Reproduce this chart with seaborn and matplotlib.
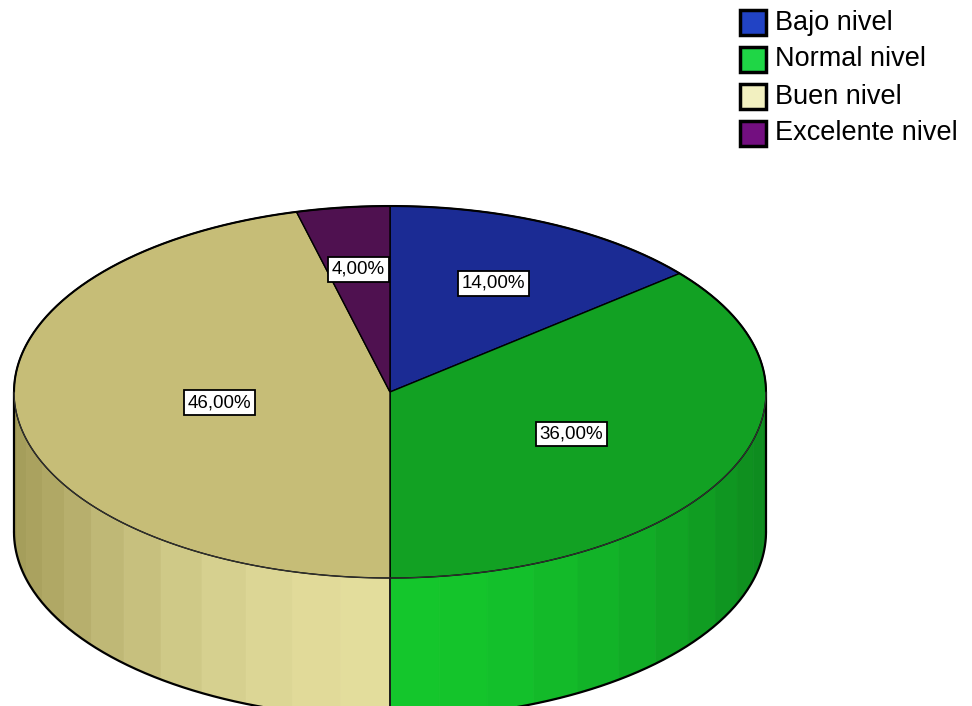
import numpy as np
import matplotlib
matplotlib.use("Agg")
import matplotlib.pyplot as plt
from matplotlib.patches import Polygon, Rectangle
import seaborn as sns

# Distribution of levels (percent of respondents)
categories = ["Bajo nivel", "Normal nivel", "Buen nivel", "Excelente nivel"]
percentages = [14.0, 36.0, 46.0, 4.0]
label_texts = ["14,00%", "36,00%", "46,00%", "4,00%"]

# Colours for the pie top, the pie wall (front / rim) and the legend swatches
top_colors = ["#1b2b94", "#12a123", "#c6bd77", "#4f1150"]
side_colors = ["#2a3fc0", "#14c62c", "#e3dd9c", "#6a1870"]
side_rim_colors = ["#1a2a80", "#0e8a1e", "#a39b58", "#401040"]
legend_colors = ["#2143c5", "#1fd646", "#f2f0c0", "#730f80"]

sns.set_theme(style="white")
plt.rcParams["font.family"] = ["Liberation Sans", "DejaVu Sans"]

fig = plt.figure(figsize=(9.72, 7.06), dpi=100)
ax = fig.add_axes([0, 0, 1, 1])
ax.set_xlim(0, 972)
ax.set_ylim(706, 0)
ax.axis("off")

# Geometry of the tilted pie (pixel units)
cx, cy, rx, ry, depth = 390.0, 392.0, 376.0, 186.0, 140.0


def top_xy(a_deg):
    a = np.radians(a_deg)
    return cx + rx * np.cos(a), cy - ry * np.sin(a)


fracs = np.array(percentages) / np.sum(percentages)
cum = np.concatenate([[0.0], np.cumsum(fracs)])
a_start = 90.0 - 360.0 * cum[:-1]
a_end = 90.0 - 360.0 * cum[1:]

# Wall of the cylinder: front half only, drawn in shaded vertical bands
band = 7.5
for i in range(len(percentages)):
    lo, hi = a_end[i], a_start[i]
    edges = np.arange(np.floor(lo / band) * band, hi + band, band)
    edges = np.unique(np.clip(edges, lo, hi))
    front = np.array(matplotlib.colors.to_rgb(side_colors[i]))
    rim = np.array(matplotlib.colors.to_rgb(side_rim_colors[i]))
    for b0, b1 in zip(edges[:-1], edges[1:]):
        mid = 0.5 * (b0 + b1)
        if np.sin(np.radians(mid)) >= 0:
            continue
        ang = np.linspace(b0, b1, 12)
        xs, ys = top_xy(ang)
        pts = np.column_stack([np.concatenate([xs, xs[::-1]]),
                               np.concatenate([ys, ys[::-1] + depth])])
        t = abs(np.cos(np.radians(mid))) ** 2
        col = front * (1 - t) + rim * t
        ax.add_patch(Polygon(pts, closed=True, facecolor=col, edgecolor=col,
                             lw=0.6, zorder=1))

# Outline of the wall
ang = np.linspace(180, 360, 300)
xs, ys = top_xy(ang)
ax.plot(xs, ys + depth, color="black", lw=1.6, zorder=2)
ax.plot([cx - rx, cx - rx], [cy, cy + depth], color="black", lw=1.6, zorder=2)
ax.plot([cx + rx, cx + rx], [cy, cy + depth], color="black", lw=1.6, zorder=2)
for i in range(len(percentages)):
    a = a_start[i]
    if np.sin(np.radians(a)) < 0:
        x0, y0 = top_xy(a)
        ax.plot([x0, x0], [y0, y0 + depth], color="#1a1a1a", lw=1.4, zorder=2)

# Top face of the pie
for i in range(len(percentages)):
    ang = np.linspace(a_start[i], a_end[i], 200)
    xs, ys = top_xy(ang)
    pts = np.column_stack([np.concatenate([[cx], xs]), np.concatenate([[cy], ys])])
    ax.add_patch(Polygon(pts, closed=True, facecolor=top_colors[i],
                         edgecolor="black", lw=1.0, zorder=3))

ang = np.linspace(0, 180, 300)
xs, ys = top_xy(ang)
ax.plot(xs, ys, color="black", lw=1.5, zorder=4)
ang = np.linspace(180, 360, 300)
xs, ys = top_xy(ang)
ax.plot(xs, ys, color="#333333", lw=0.8, zorder=4)

# Percentage labels at the centroid of each sector
for i in range(len(percentages)):
    half = np.radians(180.0 * fracs[i])
    r = 2.0 * np.sin(half) / (3.0 * half)
    mid = np.radians(0.5 * (a_start[i] + a_end[i]))
    lx = cx + r * rx * np.cos(mid)
    ly = cy - r * ry * np.sin(mid)
    ax.text(lx, ly, label_texts[i], ha="center", va="center", fontsize=13.5,
            color="black", zorder=5,
            bbox=dict(boxstyle="square,pad=0.2", facecolor="white",
                      edgecolor="black", lw=1.3))

# Legend
for i, (name, col) in enumerate(zip(categories, legend_colors)):
    y0 = 9.5 + 37.0 * i
    ax.add_patch(Rectangle((739.5, y0), 26, 25, facecolor=col,
                           edgecolor="black", lw=2.5, zorder=5))
    ax.text(775, y0 + 13, name, ha="left", va="center", fontsize=19.5,
            color="black", zorder=5)

fig.savefig("out.png", dpi=100)
